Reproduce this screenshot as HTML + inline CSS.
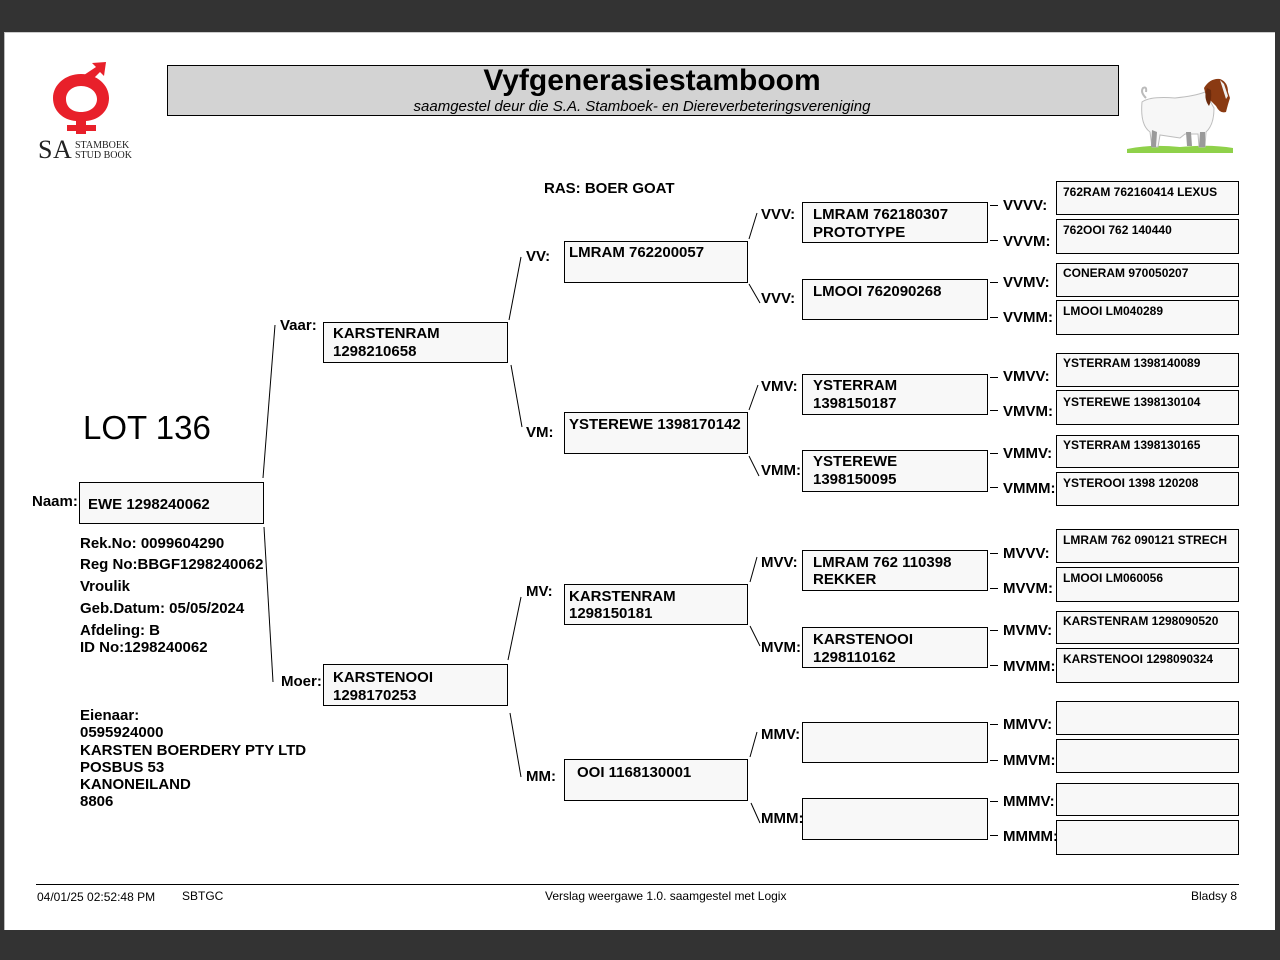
<!DOCTYPE html>
<html><head><meta charset="utf-8"><style>
html,body{margin:0;padding:0;}
body{width:1280px;height:960px;background:#333;position:relative;overflow:hidden;font-family:"Liberation Sans",Arial,sans-serif;color:#000;}
#page{position:absolute;left:4px;top:32px;width:1271px;height:898px;background:#fff;border-left:1px solid #bbb;border-top:1px solid #ccc;box-sizing:border-box;}
.a{position:absolute;white-space:nowrap;}
.b{position:absolute;box-sizing:border-box;border:1px solid #000;background:#f8f8f8;}
.t{position:absolute;white-space:nowrap;font-weight:bold;font-size:15px;line-height:18px;margin-top:1px;}
.l{position:absolute;white-space:nowrap;font-weight:bold;font-size:15px;line-height:17px;margin-top:1px;}
.s{position:absolute;white-space:nowrap;font-weight:bold;font-size:12px;line-height:14px;margin-top:1px;}
.i{position:absolute;white-space:nowrap;font-weight:bold;font-size:15px;line-height:17px;margin-top:1px;}
.f{position:absolute;white-space:nowrap;font-size:12px;line-height:14px;margin-top:1px;}
</style></head><body>
<div id="page"></div>

<!-- logo -->
<svg class="a" style="left:30px;top:55px" width="110" height="110" viewBox="30 55 110 110">
  <g fill="#e8202a">
    <path fill-rule="evenodd" d="M81 74 C97 74 109 85 109 98 C109 111 99 120 86 121 L86 125 L96 125 L96 131 L86 131 L86 134 L76 134 L76 131 L67 131 L67 125 L76 125 L76 121 C63 120 53 111 53 98 C53 85 65 74 81 74 Z M81 86 C72 86 66 92 66 99 C66 107 72 112 81 112 C90 112 97 107 97 99 C97 92 90 86 81 86 Z"/>
    <path d="M84 75 L96 67 L92 63 L106 62 L104 76 L100 72 L90 82 Z"/>
  </g>
  <text x="38" y="158" font-family="Liberation Serif,serif" font-size="26" fill="#222" letter-spacing="0.5">SA</text>
  <text x="75" y="148" font-family="Liberation Serif,serif" font-size="10" fill="#222">STAMBOEK</text>
  <text x="75" y="158" font-family="Liberation Serif,serif" font-size="10" fill="#222">STUD BOOK</text>
</svg>

<!-- title box -->
<div class="a" style="left:167px;top:65px;width:952px;height:51px;box-sizing:border-box;border:1px solid #000;background:#d3d3d3;"></div>
<div class="a" style="left:176px;top:64px;width:952px;text-align:center;font-weight:bold;font-size:30px;line-height:34px;">Vyfgenerasiestamboom</div>
<div class="a" style="left:167px;top:98px;width:950px;text-align:center;font-style:italic;font-size:15px;line-height:17px;">saamgestel deur die S.A. Stamboek- en Diereverbeteringsvereniging</div>

<!-- goat -->
<svg class="a" style="left:1120px;top:70px" width="125" height="90" viewBox="1120 70 125 90">
  <path d="M1127 149 Q1150 144 1180 147 Q1210 144 1233 148 L1233 153 L1127 153 Z" fill="#8fd14a"/>
  <path d="M1146 98 Q1140 92 1143 88 Q1147 86 1146 92" fill="none" stroke="#bbb" stroke-width="2"/>
  <path d="M1142 102 Q1150 96 1175 98 Q1195 96 1205 92 L1214 108 Q1214 125 1206 132 L1205 147 L1199 147 L1198 134 L1185 134 L1180 138 L1160 135 L1158 147 L1152 147 L1150 132 Q1140 125 1142 102 Z" fill="#f7f7f7" stroke="#bdbdbd" stroke-width="1"/>
  <path d="M1152 130 L1151 147 L1156 147 L1157 132 Z M1200 132 L1199 147 L1205 147 L1205 132 Z M1186 132 L1187 146 L1192 146 L1191 132 Z" fill="#9a9a9a"/>
  <path d="M1204 88 Q1210 78 1220 79 Q1228 82 1228 92 L1230 98 Q1228 104 1226 112 Q1220 114 1216 106 Q1210 100 1206 96 Z" fill="#8a3a12"/>
  <path d="M1220 80 L1224 84 L1228 96 L1226 99 Z" fill="#f0f0f0"/>
  <path d="M1207 88 Q1203 98 1209 106 Q1212 100 1211 90 Z" fill="#6b2a0c"/>
</svg>

<!-- LOT -->
<div class="a" style="left:83px;top:410px;font-size:33px;line-height:36px;">LOT 136</div>
<div class="l" style="left:544px;top:179px;">RAS: BOER GOAT</div>

<!-- connectors -->
<svg class="a" style="left:0;top:0" width="1280" height="960">
  <g stroke="#000" stroke-width="1" fill="none">
    <line x1="263" y1="478" x2="275" y2="325"/>
    <line x1="264" y1="527" x2="273" y2="682"/>
    <line x1="509" y1="320" x2="521" y2="257"/>
    <line x1="511" y1="365" x2="522" y2="427"/>
    <line x1="508" y1="660" x2="521" y2="597"/>
    <line x1="510" y1="713" x2="521" y2="777"/>
    <line x1="749" y1="239" x2="757" y2="213"/>
    <line x1="749" y1="284" x2="760" y2="303"/>
    <line x1="749" y1="410" x2="758" y2="385"/>
    <line x1="749" y1="456" x2="759" y2="476"/>
    <line x1="750" y1="582" x2="757" y2="557"/>
    <line x1="750" y1="626" x2="760" y2="646"/>
    <line x1="750" y1="757" x2="757" y2="732"/>
    <line x1="751" y1="803" x2="760" y2="823"/>
    <g>
      <line x1="990" y1="205.5" x2="998" y2="205.5"/>
      <line x1="990" y1="240.5" x2="998" y2="240.5"/>
      <line x1="990" y1="282.5" x2="998" y2="282.5"/>
      <line x1="990" y1="317.5" x2="998" y2="317.5"/>
      <line x1="990" y1="377.5" x2="998" y2="377.5"/>
      <line x1="990" y1="410.5" x2="998" y2="410.5"/>
      <line x1="990" y1="453.5" x2="998" y2="453.5"/>
      <line x1="990" y1="487.5" x2="998" y2="487.5"/>
      <line x1="990" y1="553.5" x2="998" y2="553.5"/>
      <line x1="990" y1="588.5" x2="998" y2="588.5"/>
      <line x1="990" y1="630.5" x2="998" y2="630.5"/>
      <line x1="990" y1="665.5" x2="998" y2="665.5"/>
      <line x1="990" y1="724.5" x2="998" y2="724.5"/>
      <line x1="990" y1="760.5" x2="998" y2="760.5"/>
      <line x1="990" y1="801.5" x2="998" y2="801.5"/>
      <line x1="990" y1="835.5" x2="998" y2="835.5"/>
    </g>
    <line x1="36" y1="884.5" x2="1239" y2="884.5"/>
  </g>
</svg>

<!-- boxes gen1-3 -->
<div class="b" style="left:79px;top:482px;width:185px;height:42px;"></div>
<div class="b" style="left:323px;top:322px;width:185px;height:41px;"></div>
<div class="b" style="left:323px;top:664px;width:185px;height:42px;"></div>
<div class="b" style="left:564px;top:241px;width:184px;height:42px;"></div>
<div class="b" style="left:564px;top:412px;width:184px;height:42px;"></div>
<div class="b" style="left:564px;top:584px;width:184px;height:41px;"></div>
<div class="b" style="left:564px;top:759px;width:184px;height:42px;"></div>
<!-- gen4 -->
<div class="b" style="left:802px;top:202px;width:186px;height:41px;"></div>
<div class="b" style="left:802px;top:279px;width:186px;height:41px;"></div>
<div class="b" style="left:802px;top:374px;width:186px;height:41px;"></div>
<div class="b" style="left:802px;top:450px;width:186px;height:42px;"></div>
<div class="b" style="left:802px;top:550px;width:186px;height:41px;"></div>
<div class="b" style="left:802px;top:627px;width:186px;height:41px;"></div>
<div class="b" style="left:802px;top:722px;width:186px;height:41px;"></div>
<div class="b" style="left:802px;top:798px;width:186px;height:42px;"></div>
<!-- gen5 -->
<div class="b" style="left:1056px;top:181px;width:183px;height:34px;"></div>
<div class="b" style="left:1056px;top:219px;width:183px;height:35px;"></div>
<div class="b" style="left:1056px;top:263px;width:183px;height:34px;"></div>
<div class="b" style="left:1056px;top:300px;width:183px;height:35px;"></div>
<div class="b" style="left:1056px;top:353px;width:183px;height:34px;"></div>
<div class="b" style="left:1056px;top:390px;width:183px;height:35px;"></div>
<div class="b" style="left:1056px;top:435px;width:183px;height:33px;"></div>
<div class="b" style="left:1056px;top:472px;width:183px;height:34px;"></div>
<div class="b" style="left:1056px;top:529px;width:183px;height:34px;"></div>
<div class="b" style="left:1056px;top:567px;width:183px;height:35px;"></div>
<div class="b" style="left:1056px;top:611px;width:183px;height:33px;"></div>
<div class="b" style="left:1056px;top:648px;width:183px;height:35px;"></div>
<div class="b" style="left:1056px;top:701px;width:183px;height:34px;"></div>
<div class="b" style="left:1056px;top:739px;width:183px;height:34px;"></div>
<div class="b" style="left:1056px;top:783px;width:183px;height:33px;"></div>
<div class="b" style="left:1056px;top:820px;width:183px;height:35px;"></div>

<!-- labels -->
<div class="l" style="left:32px;top:492px;">Naam:</div>
<div class="l" style="left:280px;top:316px;">Vaar:</div>
<div class="l" style="left:281px;top:672px;">Moer:</div>
<div class="l" style="left:526px;top:247px;">VV:</div>
<div class="l" style="left:526px;top:423px;">VM:</div>
<div class="l" style="left:526px;top:582px;">MV:</div>
<div class="l" style="left:526px;top:767px;">MM:</div>
<div class="l" style="left:761px;top:205px;">VVV:</div>
<div class="l" style="left:761px;top:289px;">VVV:</div>
<div class="l" style="left:761px;top:377px;">VMV:</div>
<div class="l" style="left:761px;top:461px;">VMM:</div>
<div class="l" style="left:761px;top:553px;">MVV:</div>
<div class="l" style="left:761px;top:638px;">MVM:</div>
<div class="l" style="left:761px;top:725px;">MMV:</div>
<div class="l" style="left:761px;top:809px;">MMM:</div>
<div class="l" style="left:1003px;top:196px;">VVVV:</div>
<div class="l" style="left:1003px;top:232px;">VVVM:</div>
<div class="l" style="left:1003px;top:273px;">VVMV:</div>
<div class="l" style="left:1003px;top:308px;">VVMM:</div>
<div class="l" style="left:1003px;top:367px;">VMVV:</div>
<div class="l" style="left:1003px;top:402px;">VMVM:</div>
<div class="l" style="left:1003px;top:444px;">VMMV:</div>
<div class="l" style="left:1003px;top:479px;">VMMM:</div>
<div class="l" style="left:1003px;top:544px;">MVVV:</div>
<div class="l" style="left:1003px;top:579px;">MVVM:</div>
<div class="l" style="left:1003px;top:621px;">MVMV:</div>
<div class="l" style="left:1003px;top:657px;">MVMM:</div>
<div class="l" style="left:1003px;top:715px;">MMVV:</div>
<div class="l" style="left:1003px;top:751px;">MMVM:</div>
<div class="l" style="left:1003px;top:792px;">MMMV:</div>
<div class="l" style="left:1003px;top:827px;">MMMM:</div>

<!-- box texts -->
<div class="t" style="left:88px;top:495px;">EWE 1298240062</div>
<div class="t" style="left:333px;top:324px;">KARSTENRAM<br>1298210658</div>
<div class="t" style="left:333px;top:668px;line-height:17.5px;">KARSTENOOI<br>1298170253</div>
<div class="t" style="left:569px;top:243px;">LMRAM 762200057</div>
<div class="t" style="left:569px;top:415px;">YSTEREWE 1398170142</div>
<div class="t" style="left:569px;top:587px;line-height:17px;">KARSTENRAM<br>1298150181</div>
<div class="t" style="left:577px;top:763px;">OOI 1168130001</div>
<div class="t" style="left:813px;top:205px;line-height:17.5px;">LMRAM 762180307<br>PROTOTYPE</div>
<div class="t" style="left:813px;top:282px;">LMOOI 762090268</div>
<div class="t" style="left:813px;top:376px;">YSTERRAM<br>1398150187</div>
<div class="t" style="left:813px;top:452px;">YSTEREWE<br>1398150095</div>
<div class="t" style="left:813px;top:553px;line-height:17px;">LMRAM 762 110398<br>REKKER</div>
<div class="t" style="left:813px;top:630px;line-height:17.5px;">KARSTENOOI<br>1298110162</div>

<div class="s" style="left:1063px;top:184px;">762RAM 762160414 LEXUS</div>
<div class="s" style="left:1063px;top:222px;">762OOI 762 140440</div>
<div class="s" style="left:1063px;top:265px;">CONERAM 970050207</div>
<div class="s" style="left:1063px;top:303px;">LMOOI LM040289</div>
<div class="s" style="left:1063px;top:355px;">YSTERRAM 1398140089</div>
<div class="s" style="left:1063px;top:394px;">YSTEREWE 1398130104</div>
<div class="s" style="left:1063px;top:437px;">YSTERRAM 1398130165</div>
<div class="s" style="left:1063px;top:475px;">YSTEROOI 1398 120208</div>
<div class="s" style="left:1063px;top:532px;">LMRAM 762 090121 STRECH</div>
<div class="s" style="left:1063px;top:570px;">LMOOI LM060056</div>
<div class="s" style="left:1063px;top:613px;">KARSTENRAM 1298090520</div>
<div class="s" style="left:1063px;top:651px;">KARSTENOOI 1298090324</div>

<!-- info -->
<div class="i" style="left:80px;top:534px;">Rek.No: 0099604290</div>
<div class="i" style="left:80px;top:555px;">Reg No:BBGF1298240062</div>
<div class="i" style="left:80px;top:577px;">Vroulik</div>
<div class="i" style="left:80px;top:599px;">Geb.Datum: 05/05/2024</div>
<div class="i" style="left:80px;top:621px;">Afdeling: B</div>
<div class="i" style="left:80px;top:638px;">ID No:1298240062</div>
<div class="i" style="left:80px;top:706px;">Eienaar:</div>
<div class="i" style="left:80px;top:723px;">0595924000</div>
<div class="i" style="left:80px;top:741px;">KARSTEN BOERDERY PTY LTD</div>
<div class="i" style="left:80px;top:758px;">POSBUS 53</div>
<div class="i" style="left:80px;top:775px;">KANONEILAND</div>
<div class="i" style="left:80px;top:792px;">8806</div>

<!-- footer -->
<div class="f" style="left:37px;top:889px;">04/01/25 02:52:48 PM</div>
<div class="f" style="left:182px;top:888px;">SBTGC</div>
<div class="f" style="left:545px;top:888px;">Verslag weergawe 1.0. saamgestel met Logix</div>
<div class="f" style="left:1140px;top:888px;width:97px;text-align:right;">Bladsy 8</div>
</body></html>
